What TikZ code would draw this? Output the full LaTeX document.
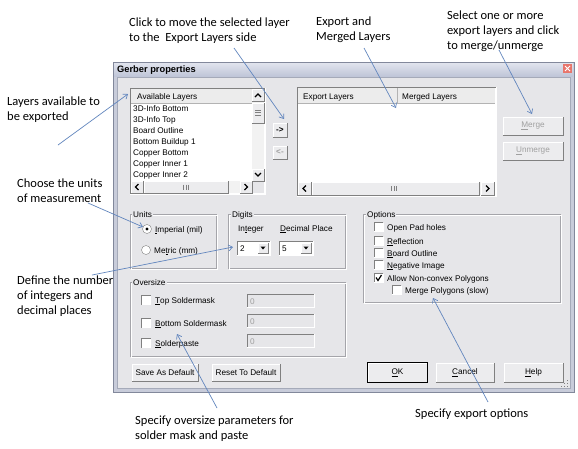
\documentclass[tikz,border=0pt]{standalone}
\usepackage{fontspec}
\setmainfont{Liberation Sans}
\newfontfamily\annotfamily{Carlito}
\usetikzlibrary{arrows.meta}

\definecolor{bodycol}{RGB}{230,230,233}
\definecolor{framecol}{RGB}{200,204,218}
\definecolor{frameline}{RGB}{130,136,155}
\definecolor{frameinner}{RGB}{165,170,185}
\definecolor{titletop}{RGB}{224,227,237}
\definecolor{titlebot}{RGB}{192,198,216}
\definecolor{closered}{RGB}{232,118,108}
\definecolor{btnface}{RGB}{236,236,238}
\definecolor{darkedge}{RGB}{128,128,128}
\definecolor{etchcol}{RGB}{165,165,170}
\definecolor{arrowblue}{RGB}{98,134,190}
\definecolor{disabledtext}{RGB}{160,160,160}
\definecolor{headcol}{RGB}{236,236,236}
\definecolor{trackcol}{RGB}{242,242,242}

\tikzset{
  annot/.style={font=\annotfamily\fontsize{12.5}{15}\selectfont, anchor=north west, inner sep=0pt, align=left},
  ui/.style={font=\fontsize{8.2}{10}\selectfont, anchor=base west, inner sep=0pt},
  uititle/.style={font=\bfseries\fontsize{9.3}{11}\selectfont, anchor=base west, inner sep=0pt},
  grplabel/.style={ui, fill=bodycol, inner xsep=1pt},
  callout/.style={draw=arrowblue, line width=0.7pt, -{Straight Barb[length=4pt,width=6pt]}},
  chev/.style={line width=1.1pt},
  grip/.style={darkedge, line width=0.5pt}
}

\newcommand\rbox[4]{%
  \fill[btnface] (#1,#2) rectangle (#3,#4);
  \draw[white, line width=0.8pt] (#1,#4) -- (#1,#2) -- (#3,#2);
  \draw[darkedge, line width=0.8pt] (#1,#4) -- (#3,#4) -- (#3,#2);}
\newcommand\sunkbox[5]{%
  \fill[#5] (#1,#2) rectangle (#3,#4);
  \draw[darkedge, line width=0.8pt] (#1,#4) -- (#1,#2) -- (#3,#2);
  \draw[white, line width=0.8pt] (#1,#4) -- (#3,#4) -- (#3,#2);}
\newcommand\gbox[4]{%
  \draw[etchcol, line width=0.7pt] (#1,#2) rectangle (#3,#4);
  \draw[white, line width=0.7pt] (#1+1,#2+1) rectangle (#3+1,#4+1);}
\newcommand\uibtn[7]{%
  \rbox{#2}{#3}{#4}{#5}
  \node[font=\fontsize{8.2}{10}\selectfont, inner sep=0pt, text=#7] (#1) at ({(#2+#4)/2},{(#3+#5)/2}) {#6};}
\newcommand\chk[3]{%
  \sunkbox{#2-4.5}{#3-4.5}{#2+4.5}{#3+4.5}{white}
  \coordinate (#1) at (#2,#3);}

\begin{document}
\begin{tikzpicture}[x=1pt,y=-1pt]
\useasboundingbox (0,0) rectangle (578,448);
\fill[white] (0,0) rectangle (578,448);

% ---------- window ----------
\fill[framecol] (113,62) rectangle (574,392);
\shade[top color=titletop, bottom color=titlebot] (114,63) rectangle (573,76);
\draw[frameline] (113,62) rectangle (574,392);
\fill[bodycol] (117,77) rectangle (570,388);
\draw[frameinner] (117,77) rectangle (570,388);
\node[uititle] (title) at (117,72.5) {Gerber properties};
\fill[closered] (563,64) rectangle (572,73);
\draw[white, line width=1pt] (565,66) -- (570,71) (570,66) -- (565,71);
\foreach \gx/\gy in {567/386,564/386,567/383,561/386,564/383,567/380}
  \fill[darkedge] (\gx,\gy) rectangle (\gx+1.2,\gy+1.2);

% ---------- available layers list ----------
\sunkbox{130}{88}{265}{194}{white}
\fill[headcol] (131,89) rectangle (252,103);
\draw[darkedge!60] (131,103) -- (252,103);
\node[ui] (hAvail) at (137,99) {Available Layers};
\foreach \t [count=\i] in {3D-Info Bottom,3D-Info Top,Board Outline,Bottom Buildup 1,Copper Bottom,Copper Inner 1,Copper Inner 2}
  \node[ui] (item\i) at (133,100.5+11*\i) {\t};
% vertical scrollbar
\fill[trackcol] (252,89) rectangle (264,181);
\rbox{252}{89}{264}{101}
\draw[chev] (255,97) -- (258,94) -- (261,97);
\rbox{252}{103}{264}{123}
\draw[grip] (255,110) -- (261,110) (255,112.5) -- (261,112.5) (255,115) -- (261,115);
\rbox{252}{169}{264}{181}
\draw[chev] (255,173) -- (258,176) -- (261,173);
% horizontal scrollbar
\fill[trackcol] (131,181) rectangle (252,193);
\rbox{131}{181}{143}{193}
\draw[chev] (138.5,184) -- (135.5,187) -- (138.5,190);
\rbox{144}{181}{228}{193}
\draw[grip] (183.5,184.5) -- (183.5,189.5) (186,184.5) -- (186,189.5) (188.5,184.5) -- (188.5,189.5);
\rbox{240}{181}{252}{193}
\draw[chev] (244.5,184) -- (247.5,187) -- (244.5,190);
\fill[bodycol] (252.5,181.5) rectangle (264,193);

% ---------- move buttons ----------
\uibtn{btnRight}{273}{123}{287}{137}{\textbf{->}}{black}
\uibtn{btnLeft}{273}{146}{287}{159}{\textbf{<-}}{disabledtext}

% ---------- export list ----------
\sunkbox{297}{87}{496}{196}{white}
\fill[headcol] (298,88) rectangle (495,103);
\draw[darkedge!60] (298,103) -- (495,103);
\draw[darkedge!60] (397,88) -- (397,103);
\node[ui] (hExport) at (303,99) {Export Layers};
\node[ui] (hMerged) at (402,99) {Merged Layers};
\fill[trackcol] (298,182) rectangle (495,195);
\rbox{298}{182}{311}{195}
\draw[chev] (306,185.5) -- (303,188.5) -- (306,191.5);
\rbox{312}{182}{479}{195}
\draw[grip] (391.5,186) -- (391.5,191) (394,186) -- (394,191) (396.5,186) -- (396.5,191);
\rbox{481}{182}{494}{195}
\draw[chev] (486,185.5) -- (489,188.5) -- (486,191.5);

% ---------- merge buttons ----------
\uibtn{btnMerge}{503}{117}{563}{135}{\underline{M}erge}{disabledtext}
\uibtn{btnUnmerge}{503}{142}{563}{160}{\underline{U}nmerge}{disabledtext}

% ---------- units ----------
\gbox{130}{214}{216}{268}
\node[grplabel] (lUnits) at (132,217) {Units};
\draw[fill=white, draw=darkedge] (147,229) circle (4.5pt);
\fill (147,229) circle (1.6pt);
\node[ui] (tImperial) at (155,232) {\underline{I}mperial (mil)};
\draw[fill=white, draw=darkedge] (146,250) circle (4.5pt);
\node[ui] (tMetric) at (154,253) {Me\underline{t}ric (mm)};

% ---------- digits ----------
\gbox{228}{214}{345}{268}
\node[grplabel] (lDigits) at (231,217) {Digits};
\node[ui] (tInteger) at (238,231) {In\underline{t}eger};
\node[ui] (tDecimal) at (280,231) {\underline{D}ecimal Place};
\sunkbox{237}{241}{270}{255}{white}
\rbox{258}{243}{268}{253}
\fill (260.5,246.5) -- (265.5,246.5) -- (263,249.5) -- cycle;
\node[ui] (vInt) at (240,251.5) {2};
\sunkbox{279}{241}{313}{255}{white}
\rbox{301}{243}{311}{253}
\fill (303.5,246.5) -- (308.5,246.5) -- (306,249.5) -- cycle;
\node[ui] (vDec) at (282,251.5) {5};

% ---------- oversize ----------
\gbox{130}{282}{345}{356}
\node[grplabel] (lOversize) at (132,285) {Oversize};
\chk{cTop}{146}{300}
\chk{cBottom}{146}{323}
\chk{cPaste}{146}{343}
\node[ui] (tTop) at (155,303) {\underline{T}op Soldermask};
\node[ui] (tBottom) at (155,326) {\underline{B}ottom Soldermask};
\node[ui] (tPaste) at (155,346) {\underline{S}olderpaste};
\sunkbox{247}{294}{314}{307}{bodycol}
\sunkbox{247}{314}{314}{327}{bodycol}
\sunkbox{247}{334}{314}{347}{bodycol}
\node[ui, text=disabledtext] (vTop) at (250,304) {0};
\node[ui, text=disabledtext] (vBottom) at (250,324) {0};
\node[ui, text=disabledtext] (vPaste) at (250,344) {0};

% ---------- options ----------
\gbox{363}{214}{560}{302}
\node[grplabel] (lOptions) at (366,217) {Options};
\chk{oPad}{378.5}{227}
\chk{oRefl}{378.5}{241}
\chk{oBoard}{378.5}{253}
\chk{oNeg}{378.5}{265}
\chk{oAllow}{378.5}{278}
\chk{oMergeP}{396.5}{290}
\draw[line width=1.2pt] (376,277.5) -- (378,280.5) -- (381.5,275);
\node[ui] (tPad) at (387,230) {Open Pad holes};
\node[ui] (tRefl) at (387,244) {\underline{R}eflection};
\node[ui] (tBoard) at (387,256) {\underline{B}oard Outline};
\node[ui] (tNeg) at (387,268) {\underline{N}egative Image};
\node[ui] (tAllow) at (387,281) {Allow Non-convex Polygons};
\node[ui] (tMergeP) at (405,293) {Merge Polygons (slow)};

% ---------- bottom buttons ----------
\uibtn{btnSave}{132}{364}{198}{381}{Save As Default}{black}
\uibtn{btnReset}{212}{364}{280}{381}{Reset To Default}{black}
\uibtn{btnOK}{368}{363}{427}{382}{\underline{O}K}{black}
\draw[black, line width=0.8pt] (367.5,362.5) rectangle (427.5,382.5);
\uibtn{btnCancel}{436}{363}{494}{382}{\underline{C}ancel}{black}
\uibtn{btnHelp}{504}{363}{563}{382}{\underline{H}elp}{black}

% ---------- annotations ----------
\node[annot] (nClick) at (129,15.5) {\strut Click to move the selected layer\\to the~ Export Layers side};
\node[annot] (nExport) at (316,14.5) {\strut Export and\\Merged Layers};
\node[annot] (nSelect) at (447,8.5) {\strut Select one or more\\export layers and click\\to merge/unmerge};
\node[annot] (nLayers) at (7,94.5) {\strut Layers available to\\be exported};
\node[annot] (nUnits) at (17,176.5) {\strut Choose the units\\of measurement};
\node[annot] (nDefine) at (17,273.5) {\strut Define the number\\of integers and\\decimal places};
\node[annot] (nOver) at (135,413.5) {\strut Specify oversize parameters for\\solder mask and paste};
\node[annot] (nOpts) at (415,406.5) {\strut Specify export options};

\coordinate (c1s) at (58,145);  \coordinate (c1e) at (128,94);
\coordinate (c2s) at (234,48);  \coordinate (c2e) at (284,119);
\coordinate (c3s) at (364,48);  \coordinate (c3e) at (396,108);
\coordinate (c4s) at (499,50);  \coordinate (c4e) at (532,114);
\coordinate (c5s) at (88,203);  \coordinate (c5e) at (143,227);
\coordinate (c6s) at (92,275);  \coordinate (c6e) at (233,247);
\coordinate (c7s) at (217,408); \coordinate (c7e) at (177,334);
\coordinate (c8s) at (488,402); \coordinate (c8e) at (433,298);
\foreach \k in {1,...,8} \draw[callout] (c\k s) -- (c\k e);
\end{tikzpicture}
\end{document}
